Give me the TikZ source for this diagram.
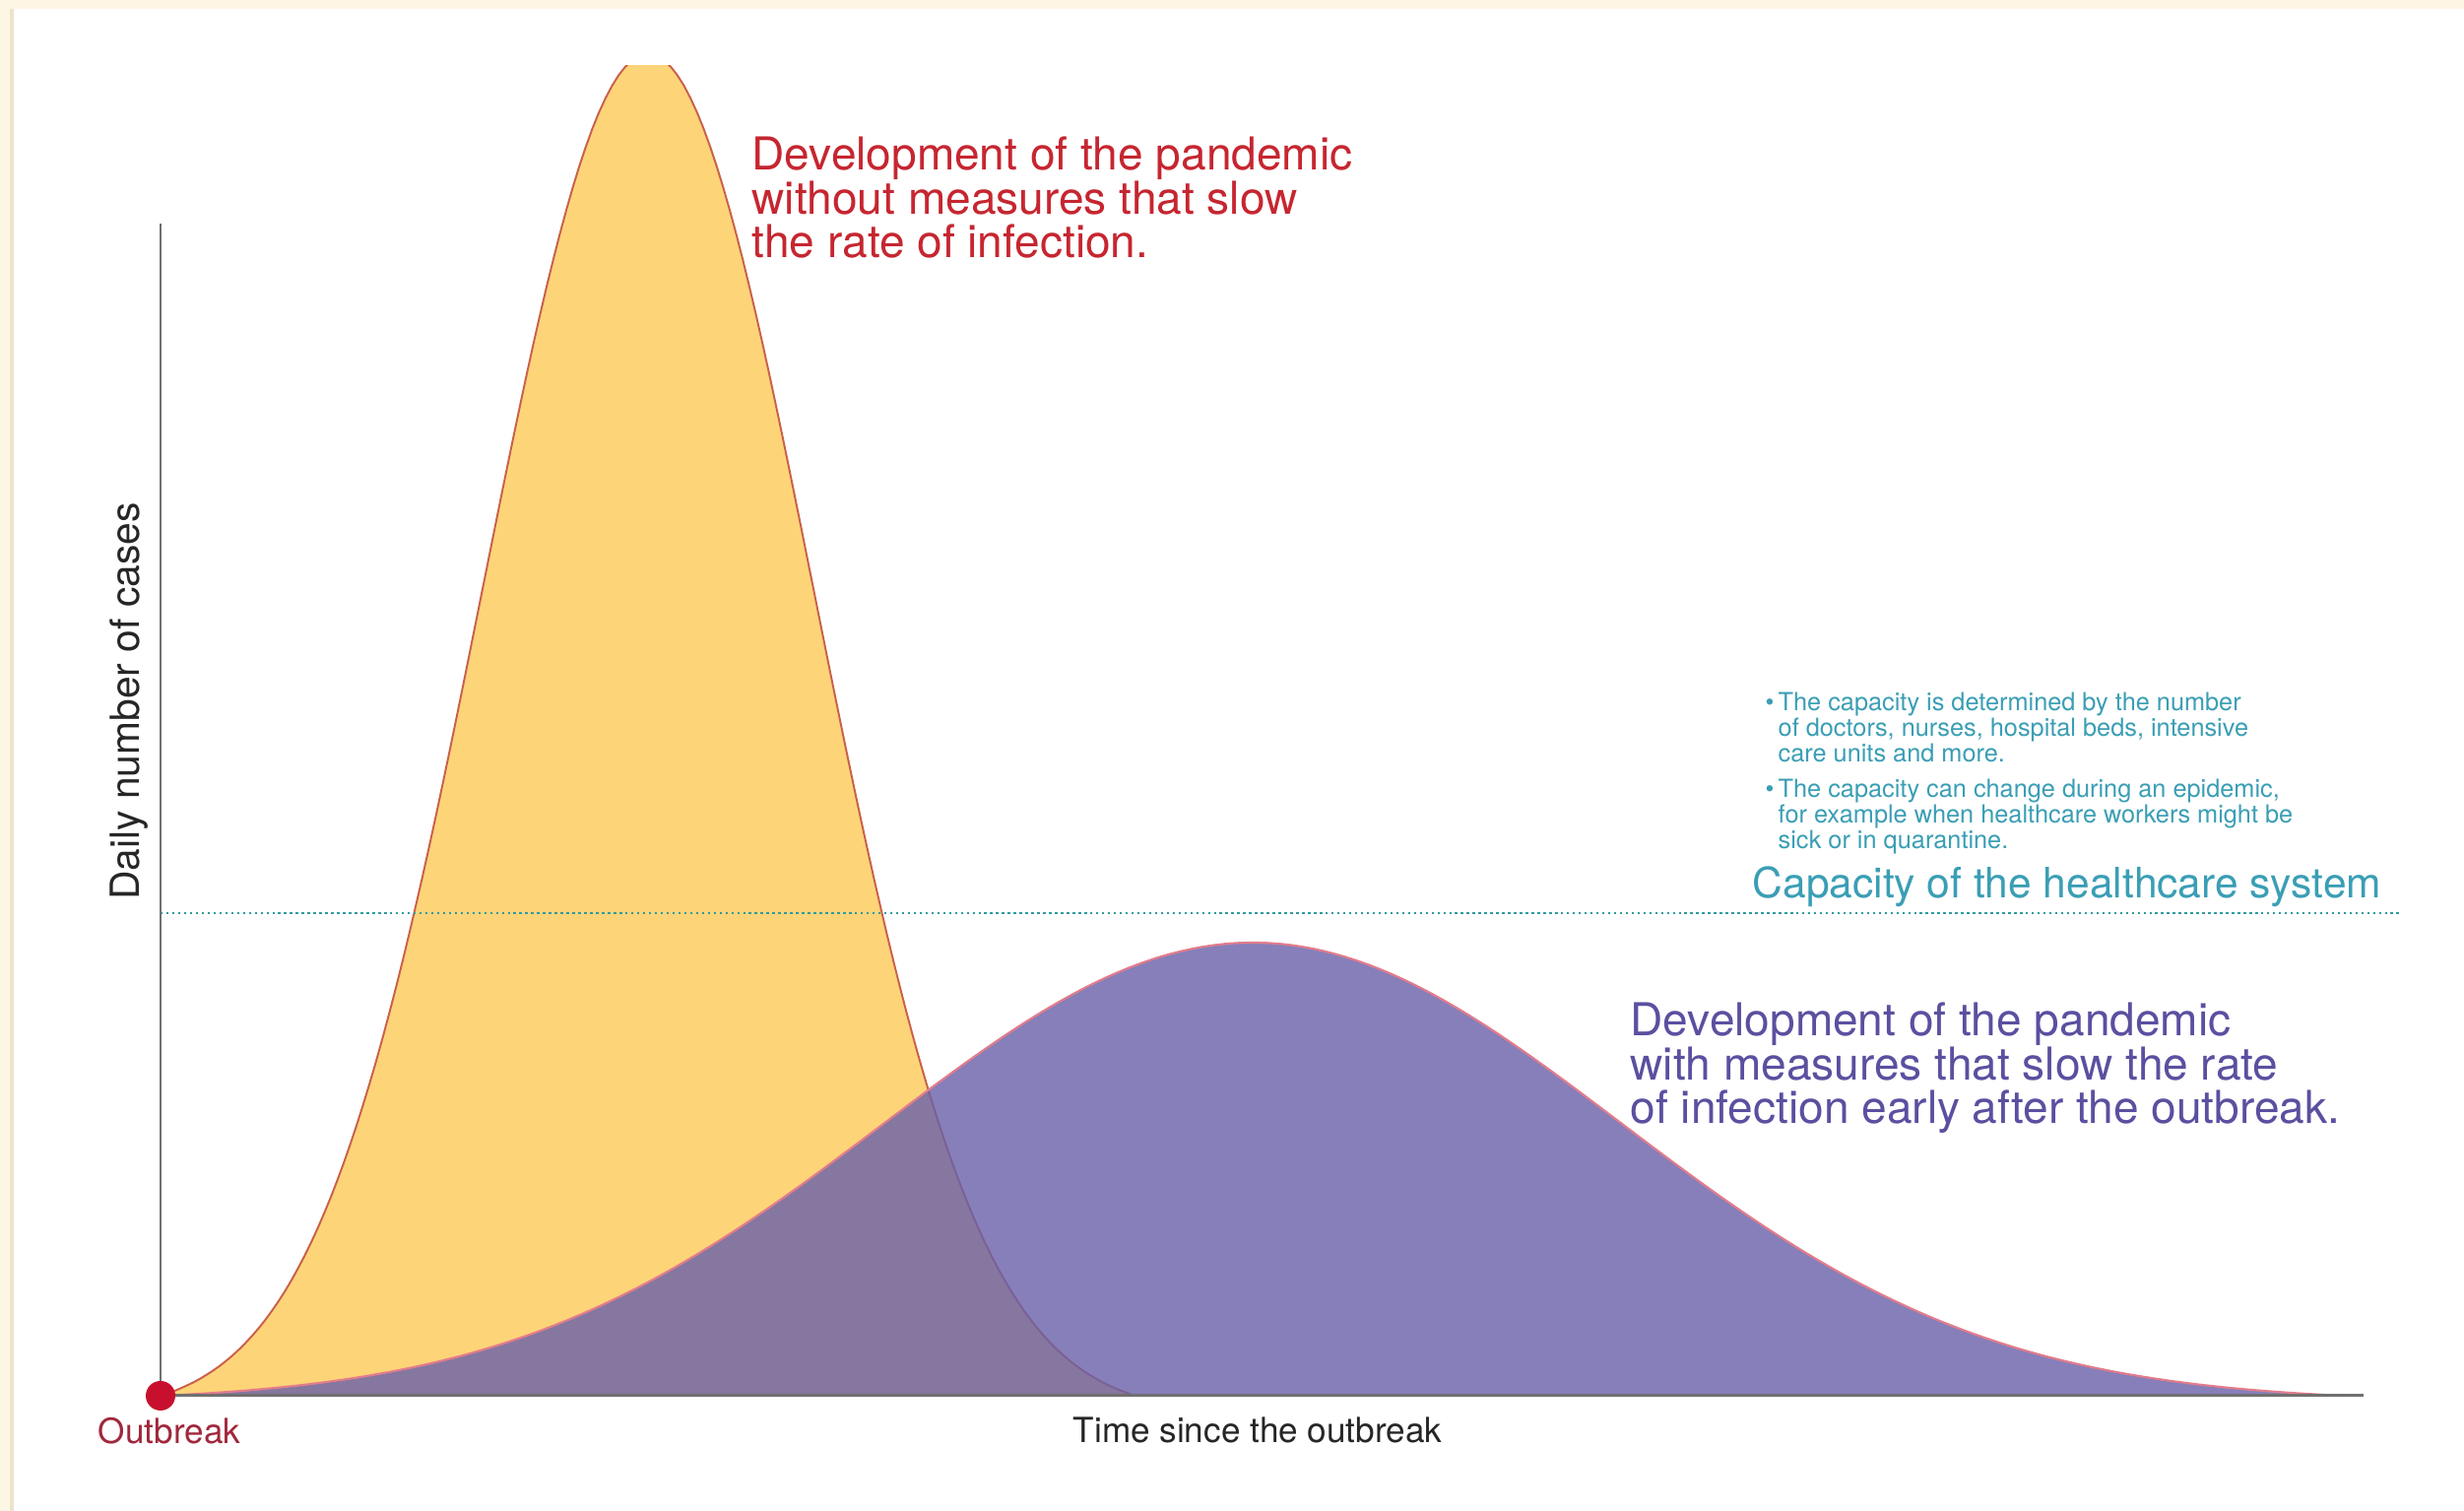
\documentclass[tikz,border=0pt]{standalone}
\usepackage{fontspec}
\setmainfont{TeX Gyre Heros}
\usepackage{xcolor}
\usetikzlibrary{positioning}

\definecolor{cream}{HTML}{FEF6E4}
\definecolor{creamshade}{HTML}{EDE3CC}
\definecolor{axisgray}{HTML}{707070}
\definecolor{yellowfill}{HTML}{FDD478}
\definecolor{yellowedge}{HTML}{C9604A}
\definecolor{purplefill}{HTML}{6860A9}
\definecolor{purpleedge}{HTML}{E27C8C}
\definecolor{redtext}{HTML}{C62630}
\definecolor{purpletext}{HTML}{5A50A0}
\definecolor{tealtext}{HTML}{3A9EB5}
\definecolor{tealline}{HTML}{2E9AA0}
\definecolor{dotred}{HTML}{C8102E}
\definecolor{outbreakred}{HTML}{A0283C}

\tikzset{
  axisline/.style={axisgray, line width=0.85pt},
  curveA/.style={draw=yellowedge, line width=0.55pt, fill=yellowfill},
  curveB/.style={draw=purpleedge, line width=0.6pt, fill=purplefill, fill opacity=0.8},
  capline/.style={tealline, line width=0.6pt, dash pattern=on 0.7pt off 1.0pt},
  bigtext/.style={inner sep=0pt, align=left, font=\fontsize{13.1}{12.7}\selectfont},
  notetext/.style={inner sep=0pt, align=left, tealtext, font=\fontsize{7.2}{7.5}\selectfont},
}

\begin{document}
\begin{tikzpicture}
    % Background: cream page with white panel
    \fill[cream] (0,0) rectangle (25.02,15.34);
    \fill[creamshade] (0.10,0) rectangle (0.14,15.25);
    \fill[white] (0.14,0) rectangle (25.02,15.25);
    \useasboundingbox (0,0) rectangle (25.02,15.34);

    % Axis points
    \coordinate (origin) at (1.63,1.17);
    \coordinate (xend) at (24.00,1.17);
    \coordinate (ytop) at (1.63,13.07);
    \coordinate (capL) at (1.63,6.07);
    \coordinate (capR) at (24.38,6.07);

    % Curve without measures (clipped at the top)
    \begin{scope}
        \clip (0,0) rectangle (25.02,14.67);
        \draw[curveA] plot[domain=1.63:11.53, samples=150]
            (\x, {1.17 + 13.62*(exp(-(\x-6.58)^2/(2*1.68^2)) - 0.013)/0.987}) -- cycle;
    \end{scope}

    % Curve with measures
    \draw[curveB] plot[domain=1.63:23.81, samples=200]
        (\x, {1.17 + 4.60*(exp(-(\x-12.72)^2/(2*3.74^2)) - 0.01233)/0.98767}) -- cycle;

    % Capacity line
    \draw[capline] (capL) -- (capR);

    % Axes
    \draw[axisline] (ytop) -- (origin) -- (xend);
    \fill[dotred] (origin) circle (0.15);

    % Axis labels
    \node[outbreakred, font=\fontsize{10}{12}\selectfont] (outbreak) at (1.72,0.81) {Outbreak};
    \node[black!85, font=\fontsize{10}{12}\selectfont] (timelbl) at (12.77,0.82) {Time since the outbreak};
    \node[black!85, rotate=90, font=\fontsize{11.6}{13}\selectfont] (dailylbl) at (1.31,8.22) {Daily number of cases};

    % Curve labels
    \node[bigtext, redtext, anchor=north west] (withoutlbl) at (7.63,13.96)
        {Development of the pandemic\\without measures that slow\\the rate of infection.};
    \node[bigtext, purpletext, anchor=north west] (withlbl) at (16.55,5.17)
        {Development of the pandemic\\with measures that slow the rate\\of infection early after the outbreak.};

    % Capacity label and notes
    \node[tealtext, inner sep=0pt, anchor=base west, font=\fontsize{12.1}{14}\selectfont] (caplbl) at (17.79,6.22)
        {Capacity of the healthcare system};
    \node[notetext, anchor=base west] (capnote1) at (18.05,7.60)
        {\llap{\textbullet\,}The capacity is determined by the number\\of doctors, nurses, hospital beds, intensive\\care units and more.};
    \node[notetext, anchor=base west] (capnote2) at (18.05,6.72)
        {\llap{\textbullet\,}The capacity can change during an epidemic,\\for example when healthcare workers might be\\sick or in quarantine.};
\end{tikzpicture}
\end{document}
